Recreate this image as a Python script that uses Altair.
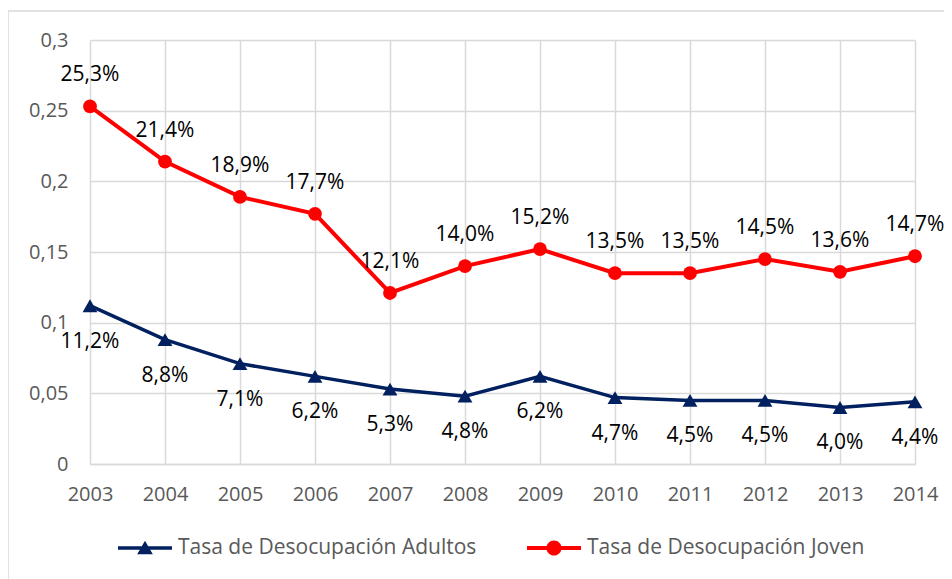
import altair as alt
import pandas as pd

# ---- data ----
years = [2003, 2004, 2005, 2006, 2007, 2008, 2009, 2010, 2011, 2012, 2013, 2014]
joven = [0.253, 0.214, 0.189, 0.177, 0.121, 0.140, 0.152, 0.135, 0.135, 0.145, 0.136, 0.147]
adultos = [0.112, 0.088, 0.071, 0.062, 0.053, 0.048, 0.062, 0.047, 0.045, 0.045, 0.040, 0.044]
y_ticks = [0, 0.05, 0.1, 0.15, 0.2, 0.25, 0.3]
name_adultos = "Tasa de Desocupación Adultos"
name_joven = "Tasa de Desocupación Joven"

FONT = "Open Sans"
RED = "#FF0000"
NAVY = "#002060"
GRID = "#D9D9D9"
AXIS_TXT = "#595959"

df_a = pd.DataFrame({"year": years, "value": adultos, "series": name_adultos})
df_j = pd.DataFrame({"year": years, "value": joven, "series": name_joven})

x_enc = alt.X(
    "year:O",
    scale=alt.Scale(type="point", padding=0),
    axis=alt.Axis(title=None, labelAngle=0, ticks=False, labelPadding=20, grid=True,
                  gridColor=GRID, gridWidth=1.5, domainColor=GRID, domainWidth=1.5,
                  labelFontSize=20, labelColor=AXIS_TXT, labelFont=FONT),
)
y_enc = alt.Y(
    "value:Q",
    scale=alt.Scale(domain=[0, 0.3], nice=False),
    axis=alt.Axis(title=None, values=y_ticks, format="~g",
                  labelExpr="replace(datum.label, '.', ',')",
                  ticks=False, domain=False, labelPadding=22, grid=True,
                  gridColor=GRID, gridWidth=1.5,
                  labelFontSize=20, labelColor=AXIS_TXT, labelFont=FONT),
)

tri_path = "M-1,-0.065H1V0.065H-1Z M-0.29,0.23L0,-0.27L0.29,0.23Z"
circ_path = "M-1,-0.075H1V0.075H-1Z M-0.28,0A0.28,0.28 0 1,1 0.28,0A0.28,0.28 0 1,1 -0.28,0Z"


def series_layer(df, color, shape, size, width, legend_path, dy, lx, ly):
    base = alt.Chart(df).encode(x=x_enc, y=y_enc)
    line = base.mark_line(strokeWidth=width, color=color)
    pts = base.mark_point(filled=True, shape=shape, size=size, opacity=1).encode(
        fill=alt.Fill(
            "series:N",
            scale=alt.Scale(range=[color]),
            legend=alt.Legend(
                title=None, orient="none", legendX=lx, legendY=ly,
                symbolType=legend_path, symbolSize=2916, symbolStrokeWidth=0,
                symbolOpacity=1, labelFontSize=21, labelColor=AXIS_TXT,
                labelFont=FONT, labelOffset=6, labelLimit=500, padding=0,
            ),
        )
    )
    txt = base.transform_calculate(
        label="replace(format(datum.value, '.1%'), '.', ',')"
    ).mark_text(dy=dy, fontSize=21, font=FONT, color="#000000").encode(text="label:N")
    return alt.layer(line, pts, txt)


adult_layer = series_layer(df_a, NAVY, "triangle-up", 220, 3.5, tri_path, 36, 28, 481)
young_layer = series_layer(df_j, RED, "circle", 190, 4, circ_path, -31, 437, 481)

# decorative chart-area border (top and left edges)
border_top = alt.Chart(alt.Data(values=[{}])).mark_rule(color=GRID, strokeWidth=1.5).encode(
    x=alt.value(-82), x2=alt.value(854), y=alt.value(-29)
)
border_left = alt.Chart(alt.Data(values=[{}])).mark_rule(color=GRID, strokeWidth=1.5).encode(
    x=alt.value(-82), y=alt.value(-29), y2=alt.value(560)
)

chart = (
    alt.layer(border_top, border_left, adult_layer, young_layer)
    .resolve_scale(fill="independent")
    .resolve_legend(fill="independent")
    .properties(
        width=825, height=424,
        autosize=alt.AutoSizeParams(type="none"),
        padding={"left": 82, "top": 32, "right": 29, "bottom": 115},
    )
    .configure_view(stroke=None)
)

chart.save("out.html", embed_options={"renderer": "svg", "actions": False})
